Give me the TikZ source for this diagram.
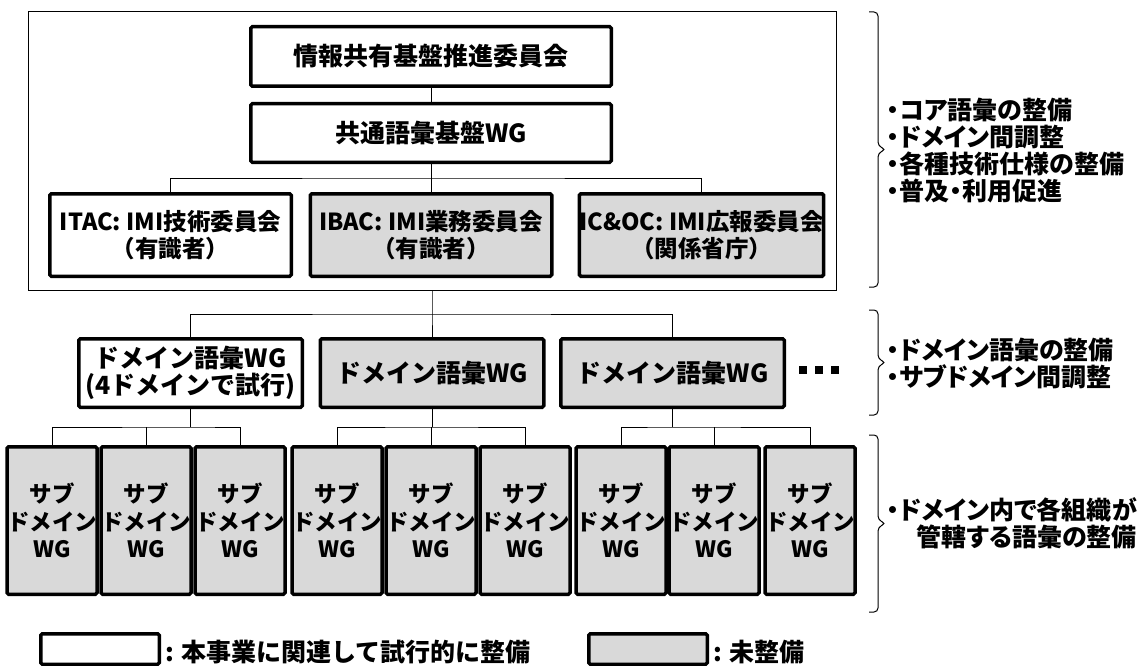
\documentclass[tikz,border=0pt]{standalone}
\usepackage{fontspec}
\setmainfont{Noto Sans CJK JP}
\newfontfamily\propfont{Noto Sans CJK JP}[RawFeature=+palt]
\usetikzlibrary{calc}
\definecolor{boxgray}{RGB}{217,217,217}
\begin{document}
\begin{tikzpicture}[x=1pt,y=-1pt,
  box/.style={draw, line width=3.5pt, rounded corners=1.5pt, inner sep=0pt, align=center,
    font=\bfseries\fontsize{25}{27}\selectfont},
  wbox/.style={box, fill=white},
  gbox/.style={box, fill=boxgray},
  combox/.style={minimum width=241.5pt, minimum height=82.5pt, font=\bfseries\fontsize{23.5}{27}\selectfont},
  subbox/.style={gbox, minimum width=84.5pt, minimum height=147.5pt, font=\bfseries\fontsize{22.5}{27.5}\selectfont},
  conn/.style={line width=1pt},
  brk/.style={line width=1pt, rounded corners=4pt},
  note/.style={anchor=west, inner sep=0pt, font=\propfont\bfseries\fontsize{25}{27}\selectfont},
  legend/.style={anchor=west, inner sep=0pt, font=\bfseries\fontsize{25}{27}\selectfont},
]
\useasboundingbox (0,0) rectangle (1145,666);
% outer frame
\node[draw, line width=1pt, inner sep=0pt, minimum width=808pt, minimum height=278pt] (frame) at (432,151) {};
% top level
\node[wbox, minimum width=360.5pt, minimum height=59.5pt] (top) at (431,56.5) {情報共有基盤推進委員会};
\node[wbox, minimum width=360.5pt, minimum height=58.5pt] (wg) at (431,133) {共通語彙基盤WG};
\node[wbox, combox] (itac) at (170.5,235) {ITAC: IMI技術委員会\\（有識者）};
\node[gbox, combox] (ibac) at (431,235) {IBAC: IMI業務委員会\\（有識者）};
\node[gbox, combox] (icoc) at (701.5,235) {IC\&OC: IMI広報委員会\\（関係省庁）};
\coordinate (h1) at (431,178);
\draw[conn] (top) -- (wg);
\draw[conn] (wg.south) -- (ibac.north);
\draw[conn] (itac.north) |- (h1) -| (icoc.north);
% domain level
\node[wbox, minimum width=223.5pt, minimum height=68.5pt] (d1) at (190.5,373) {ドメイン語彙WG\\(4ドメインで試行)};
\node[gbox, minimum width=223.5pt, minimum height=68.5pt] (d2) at (432,373) {ドメイン語彙WG};
\node[gbox, minimum width=223.5pt, minimum height=68.5pt] (d3) at (672.5,373) {ドメイン語彙WG};
\coordinate (h2) at (432,314);
\draw[conn] (frame.south) -- (h2) -- (d2.north);
\draw[conn] (d1.north) |- (h2) -| (d3.north);
% sub-domain level
\foreach \i/\x in {1/52,2/146,3/240,4/337,5/431,6/525,7/621,8/714,9/810}{
  \node[subbox] (s\i) at (\x,520.5) {サブ\\ドメイン\\WG};
}
\coordinate (g1) at (190.5,427);
\coordinate (g2) at (432,427);
\coordinate (g3) at (672.5,427);
\draw[conn] (d1.south) -- (g1);
\draw[conn] (s1.north) |- (g1) -| (s3.north);
\draw[conn] (s2.north) -- (s2.north |- g1);
\draw[conn] (d2.south) -- (g2);
\draw[conn] (s4.north) |- (g2) -| (s6.north);
\draw[conn] (s5.north) -- (s5.north |- g2);
\draw[conn] (d3.south) -- (g3);
\draw[conn] (s7.north) |- (g3) -| (s9.north);
\draw[conn] (s8.north) -- (s8.north |- g3);
% ellipsis dots
\fill (799,366) rectangle (807,374);
\fill (815,366) rectangle (823,374);
\fill (831,366) rectangle (839,374);
% brackets
\draw[brk] (869,12) -- (878,12) -- (878,146) -- (886,149.5) -- (878,153) -- (878,287) -- (869,287);
\draw[brk] (869,310) -- (878,310) -- (878,359) -- (886,362.5) -- (878,366) -- (878,415) -- (869,415);
\draw[brk] (869,435) -- (878,435) -- (878,520) -- (886,523.5) -- (878,527) -- (878,612) -- (869,612);
\node[note, align=left] (n1) at (887,151) {・コア語彙の整備\\・ドメイン間調整\\・各種技術仕様の整備\\・普及・利用促進};
\node[note, align=left] (n2) at (887,363.5) {・ドメイン語彙の整備\\・サブドメイン間調整};
\node[note, align=right] (n3) at (887,523.5) {・ドメイン内で各組織が\\管轄する語彙の整備};
% legend
\node[wbox, minimum width=118.5pt, minimum height=30.5pt] (lg1) at (100,649) {};
\node[legend] (lt1) at (165,652) {: 本事業に関連して試行的に整備};
\node[gbox, minimum width=118.5pt, minimum height=30.5pt] (lg2) at (648,649) {};
\node[legend] (lt2) at (713,652) {: 未整備};
\end{tikzpicture}
\end{document}
